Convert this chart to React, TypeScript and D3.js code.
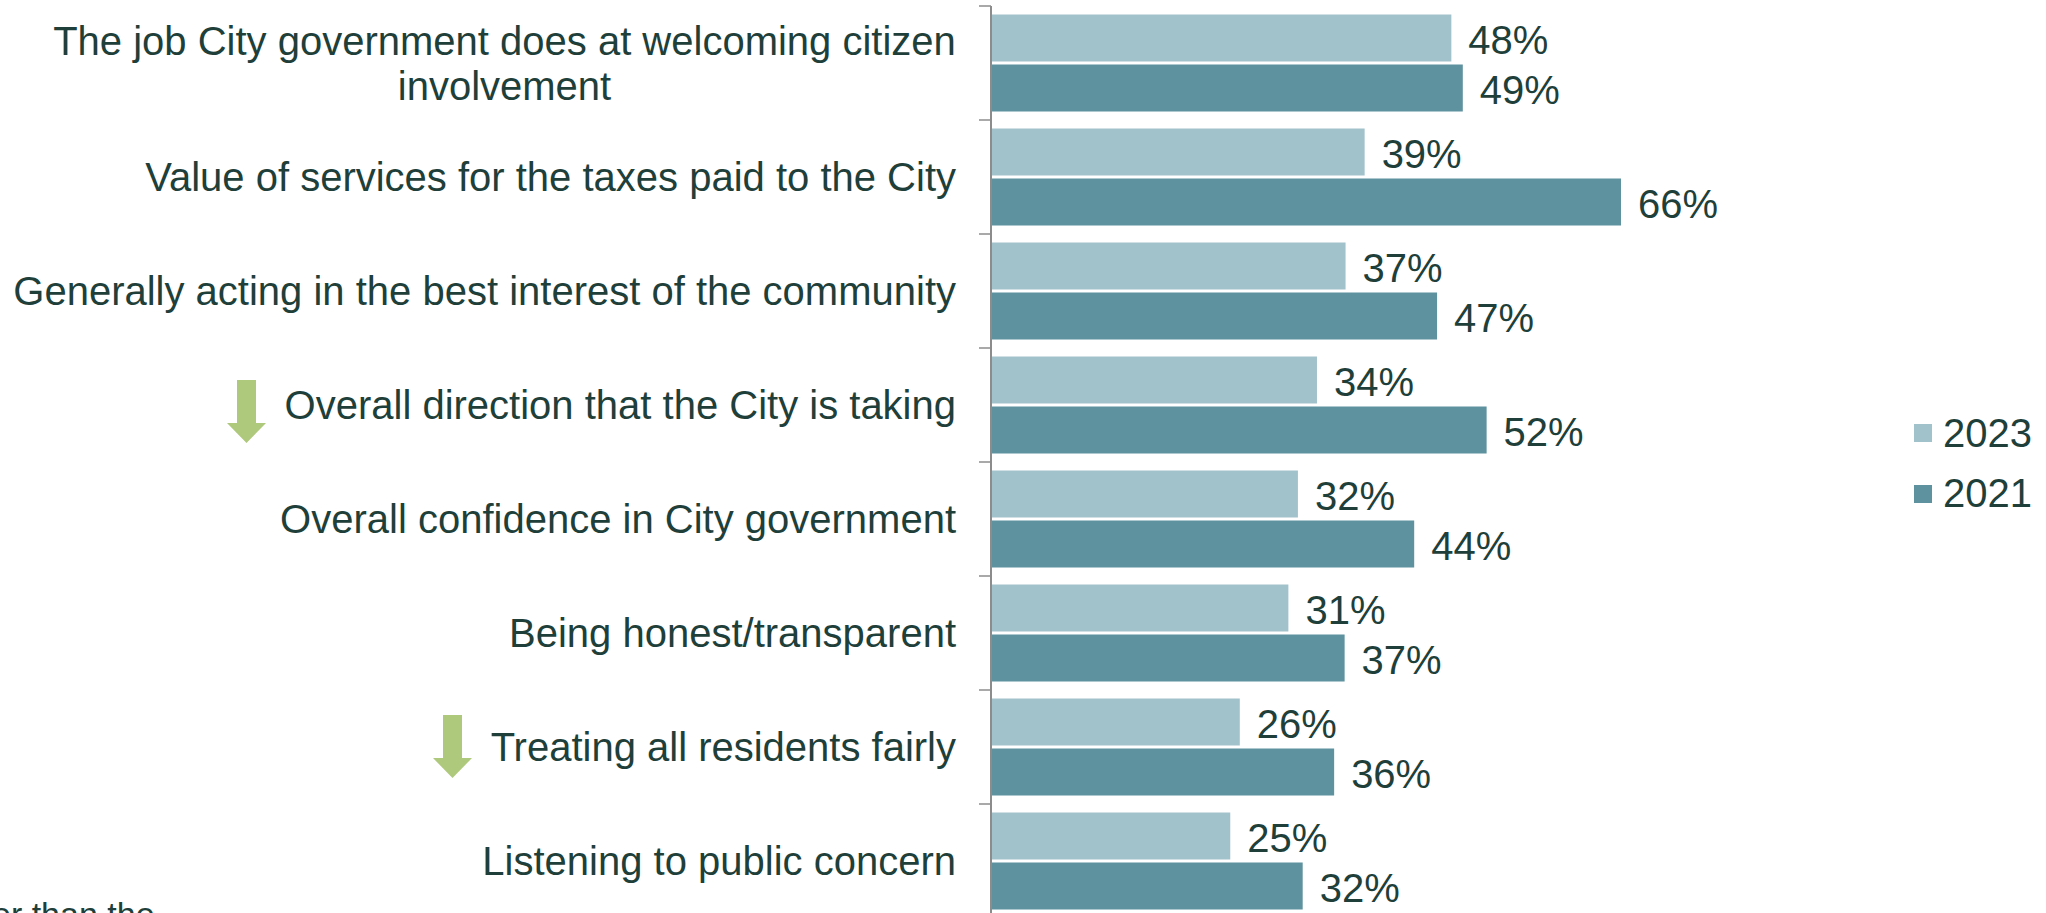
import React from "react";
import * as d3 from "d3";

const categories = [
  "The job City government does at welcoming citizen|involvement",
  "Value of services for the taxes paid to the City",
  "Generally acting in the best interest of the community",
  "Overall direction that the City is taking",
  "Overall confidence in City government",
  "Being honest/transparent",
  "Treating all residents fairly",
  "Listening to public concern",
];
const seriesNames = ["2023", "2021"];
const values2023 = [48.2, 39.1, 37.1, 34.1, 32.1, 31.1, 26.0, 25.0];
const values2021 = [49.4, 66, 46.7, 51.9, 44.3, 37, 35.9, 32.6];
const labels2023 = ["48%", "39%", "37%", "34%", "32%", "31%", "26%", "25%"];
const labels2021 = ["49%", "66%", "47%", "52%", "44%", "37%", "36%", "32%"];
const arrowCategories = [3, 6];
const arrowCenters = [246.5, 452.5];
const arrowOffsets = [-25, -32];

const INK = "#1f3f3a";
const colors = ["#a2c2cb", "#5f929f"];
const FONT = "'Liberation Sans', Arial, sans-serif";
const FS = 40;

export default function App() {
  const x = d3.scaleLinear().domain([0, 66]).range([992, 1621]);
  const y = d3.scaleBand<number>().domain(d3.range(categories.length)).range([6, 918]);
  const inner = d3.scaleBand<number>().domain([0, 1]).range([0, y.bandwidth()]).paddingInner(0.06).paddingOuter(0.17);
  const rows = [values2023, values2021];
  const labels = [labels2023, labels2021];
  return (
    <svg width={2046} height={913} style={{ position: "absolute", left: 0, top: 0, display: "block" }} fontFamily={FONT} fontSize={FS} fill={INK}>
      {rows.map((vals, s) =>
        vals.map((v, i) => {
          const by = y(i)! + inner(s)!;
          const bh = inner.bandwidth();
          return (
            <g key={`${s}-${i}`}>
              <rect x={x(0)} y={by} width={x(v) - x(0)} height={bh} fill={colors[s]} />
              <text x={x(v) + 17} y={by + bh / 2 + 2} dy="0.36em">{labels[s][i]}</text>
            </g>
          );
        })
      )}
      <line x1={991} x2={991} y1={6} y2={913} stroke="#8c8c8c" strokeWidth={2} />
      {d3.range(categories.length + 1).map((i) => {
        const ty = 6 + i * y.step();
        return <line key={i} x1={979} x2={991} y1={ty} y2={ty} stroke="#8c8c8c" strokeWidth={1.5} />;
      })}
      {categories.map((c, i) => {
        const lines = c.split("|");
        const cy = y(i)! + y.bandwidth() / 2;
        return (
          <text key={c}>
            {lines.map((l, j) => (
              <tspan
                key={j}
                textAnchor={lines.length > 1 ? "middle" : "end"}
                x={lines.length > 1 ? 504.5 : 956}
                y={cy + (j - (lines.length - 1) / 2) * 45}
                dy="0.36em"
              >
                {l}
              </tspan>
            ))}
          </text>
        );
      })}
      {arrowCategories.map((c, k) => {
        const cx = arrowCenters[k];
        const top = y(c)! + y.bandwidth() / 2 + arrowOffsets[k];
        const pts: [number, number][] = [
          [cx - 9.5, top], [cx + 9.5, top], [cx + 9.5, top + 43], [cx + 19.5, top + 43],
          [cx, top + 63], [cx - 19.5, top + 43], [cx - 9.5, top + 43],
        ];
        return <path key={c} d={d3.line()(pts)! + "Z"} fill="#afc97c" />;
      })}
      {seriesNames.map((n, i) => (
        <g key={n}>
          <rect x={1914} y={424 + i * 61} width={18} height={18} fill={colors[i]} />
          <text x={1943} y={432.5 + i * 60.5} dy="0.36em">{n}</text>
        </g>
      ))}
      <text x={-8} y={926} fontSize={34}>er than the</text>
    </svg>
  );
}
